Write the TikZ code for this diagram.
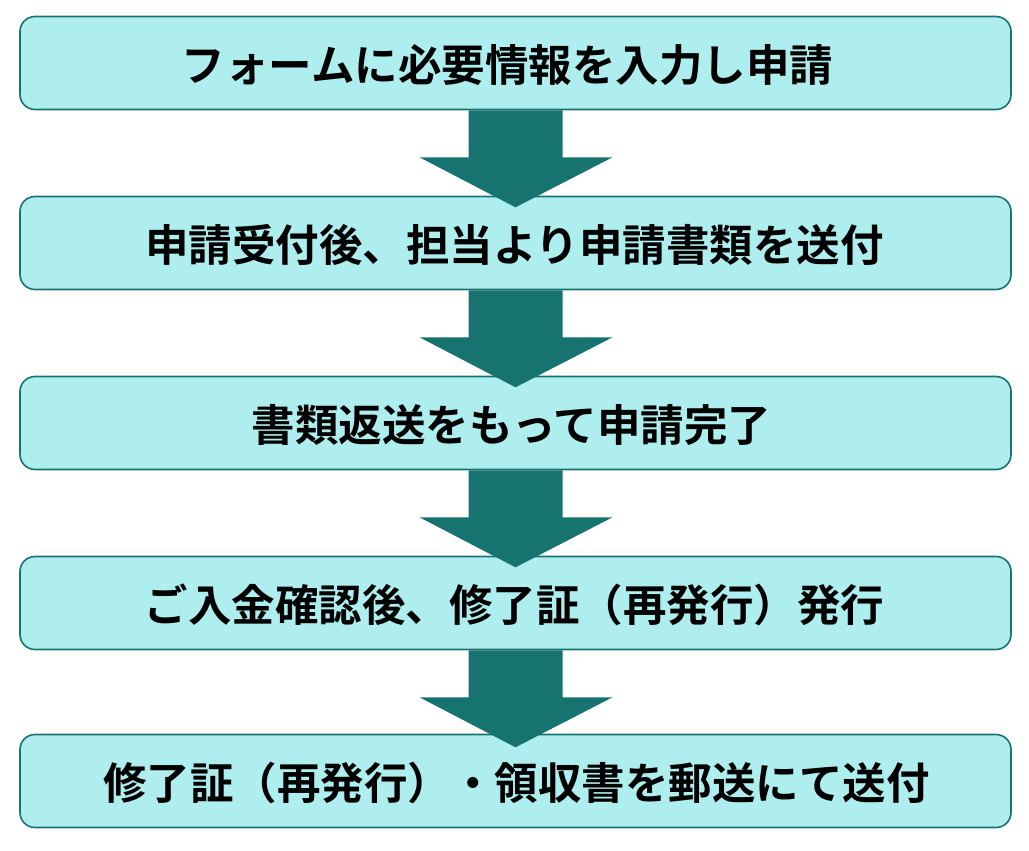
\documentclass[tikz,border=0pt]{standalone}
\usepackage{fontspec}
\newfontfamily\jp{Noto Sans CJK JP}[BoldFont={* Bold}]
\definecolor{boxfill}{RGB}{175,238,238}
\definecolor{teal}{RGB}{23,115,112}
\begin{document}
\begin{tikzpicture}[x=1pt,y=-1pt,
  stepbox/.style={draw=teal,line width=1.6pt,fill=boxfill,rounded corners=15pt,
    minimum width=991pt,minimum height=93pt,inner sep=0pt,
    font=\jp\bfseries\fontsize{43.5}{50}\selectfont,text=black},
  flowarrow/.style={fill=teal,draw=none}]
\useasboundingbox (0,0) rectangle (1029,851);
\node[stepbox] (b1) at (515.5,63) {};
\node[stepbox] (b2) at (515.5,243) {};
\node[stepbox] (b3) at (515.5,423) {};
\node[stepbox] (b4) at (515.5,603) {};
\node[stepbox] (b5) at (515.5,781) {};
\node[stepbox,draw=none,fill=none,minimum width=0pt] (t1) at ([xshift=-8pt,yshift=-2pt]b1.center) {フォームに必要情報を入力し申請};
\node[stepbox,draw=none,fill=none,minimum width=0pt] (t2) at ([xshift=-1pt,yshift=-2pt]b2.center) {申請受付後、担当より申請書類を送付};
\node[stepbox,draw=none,fill=none,minimum width=0pt] (t3) at ([xshift=-4pt,yshift=-2pt]b3.center) {書類返送をもって申請完了};
\node[stepbox,draw=none,fill=none,minimum width=0pt] (t4) at ([xshift=-1pt,yshift=-2pt]b4.center) {ご入金確認後、修了証（再発行）発行};
\node[stepbox,draw=none,fill=none,minimum width=0pt] (t5) at ([xshift=1pt,yshift=-2pt]b5.center) {修了証（再発行）・領収書を郵送にて送付};
\foreach \a in {b1,b2,b3,b4}{
  \fill[teal] ([xshift=-47pt]\a.south) -- ([xshift=-47pt,yshift=-47pt]\a.south)
    -- ([xshift=-96pt,yshift=-47pt]\a.south) -- ([yshift=-97pt]\a.south)
    -- ([xshift=97pt,yshift=-47pt]\a.south) -- ([xshift=47pt,yshift=-47pt]\a.south)
    -- ([xshift=47pt]\a.south) -- cycle;
}
\end{tikzpicture}
\end{document}
